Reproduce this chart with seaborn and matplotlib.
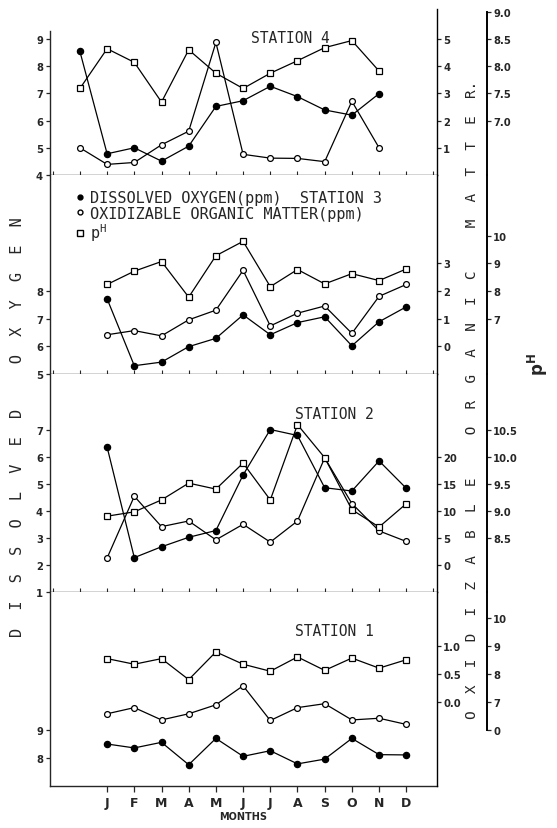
import numpy as np
import pandas as pd
import matplotlib
matplotlib.use('Agg')
import matplotlib.pyplot as plt
import seaborn as sns
from matplotlib.lines import Line2D
from matplotlib.font_manager import FontProperties

sns.set_style('ticks')
plt.rcParams['font.family'] = ['DejaVu Sans']
plt.rcParams['axes.linewidth'] = 1.0

months = ['J', 'F', 'M', 'A', 'M', 'J', 'J', 'A', 'S', 'O', 'N', 'D']

# station 4 (drawn one month to the left in the original figure)
do_st4 = [8.54, 4.78, 5.00, 4.51, 5.06, 6.52, 6.73, 7.26, 6.88, 6.39, 6.20, 6.99]
om_st4 = [1.00, 0.39, 0.46, 1.11, 1.61, 4.87, 0.76, 0.62, 0.61, 0.49, 2.71, 1.00]
ph_st4 = [7.59, 8.32, 8.07, 7.34, 8.30, 7.87, 7.59, 7.87, 8.10, 8.34, 8.47, 7.91]

# station 3
do_st3 = [7.72, 5.30, 5.43, 5.99, 6.29, 7.14, 6.42, 6.86, 7.07, 6.02, 6.89, 7.43]
om_st3 = [0.42, 0.57, 0.38, 0.96, 1.31, 2.75, 0.74, 1.20, 1.46, 0.47, 1.81, 2.24]
ph_st3 = [8.24, 8.72, 9.07, 7.78, 9.28, 9.80, 8.16, 8.78, 8.26, 8.63, 8.38, 8.80]

# station 2
do_st2 = [6.35, 2.27, 2.67, 3.02, 3.27, 5.32, 7.00, 6.78, 4.85, 4.73, 5.84, 4.83]
om_st2 = [1.28, 12.68, 7.07, 8.11, 4.63, 7.50, 4.21, 8.11, 19.76, 11.34, 6.28, 4.33]
ph_st2 = [8.90, 8.98, 9.20, 9.51, 9.40, 9.88, 9.20, 10.59, 9.98, 9.02, 8.70, 9.13]

# station 1
do_st1 = [8.50, 8.36, 8.56, 7.76, 8.70, 8.06, 8.26, 7.79, 7.96, 8.70, 8.12, 8.11]
om_st1 = [-0.21, -0.10, -0.32, -0.21, -0.05, 0.29, -0.33, -0.10, -0.03, -0.32, -0.29, -0.40]
ph_st1 = [8.55, 8.35, 8.55, 7.80, 8.79, 8.35, 8.10, 8.61, 8.13, 8.57, 8.21, 8.51]

W, H = 557, 829
fig = plt.figure(figsize=(W / 100, H / 100), dpi=100)
X0, X1 = 50, 437

mono = 'DejaVu Sans Mono'
tickfont = dict(fontsize=7.2, fontweight='bold')

panels = [
    dict(name='STATION 4', top=10, bot=176, shift=-1, do=do_st4, om=om_st4, ph=ph_st4,
         do_lim=(4, 10.1), do_ticks=[4, 5, 6, 7, 8, 9], do_bounds=(4, 9.3),
         om_lim=(0, 6.1), om_ticks=[1, 2, 3, 4, 5], om_labels=['1', '2', '3', '4', '5'],
         ph_lim=(6.0, 9.05), ph_ticks=[7.0, 7.5, 8.0, 8.5, 9.0],
         ph_labels=['7.0', '7.5', '8.0', '8.5', '9.0'], ph_bounds=(6.0, 9.0),
         label_pos=(0.62, 0.83)),
    dict(name=None, top=176, bot=375, shift=0, do=do_st3, om=om_st3, ph=ph_st3,
         do_lim=(5, 12.2), do_ticks=[5, 6, 7, 8], do_bounds=None,
         om_lim=(-1, 6.2), om_ticks=[0, 1, 2, 3], om_labels=['0', '1', '2', '3'],
         ph_lim=(5, 12.2), ph_ticks=[7, 8, 9, 10], ph_labels=['7', '8', '9', '10'],
         ph_bounds=None, label_pos=None),
    dict(name='STATION 2', top=375, bot=593, shift=0, do=do_st2, om=om_st2, ph=ph_st2,
         do_lim=(1, 9.05), do_ticks=[1, 2, 3, 4, 5, 6, 7], do_bounds=None,
         om_lim=(-5, 35.25), om_ticks=[0, 5, 10, 15, 20],
         om_labels=['0', '5', '10', '15', '20'],
         ph_lim=(7.5, 11.525), ph_ticks=[8.5, 9.0, 9.5, 10.0, 10.5],
         ph_labels=['8.5', '9.0', '9.5', '10.0', '10.5'], ph_bounds=None,
         label_pos=(0.736, 0.817)),
    dict(name='STATION 1', top=593, bot=787, shift=0, do=do_st1, om=om_st1, ph=ph_st1,
         do_lim=(7, 13.93), do_ticks=[8, 9], do_bounds=None,
         om_lim=(-1.5, 1.965), om_ticks=[0.0, 0.5, 1.0], om_labels=['0.0', '0.5', '1.0'],
         ph_lim=(4, 10.93), ph_ticks=[6, 7, 8, 9, 10], ph_labels=['0', '7', '8', '9', '10'],
         ph_bounds=(6, 10.93), label_pos=(0.735, 0.80)),
]

line_kw = dict(color='black', linewidth=0.9, markeredgecolor='black', markeredgewidth=0.9)

axes = []
for i, p in enumerate(panels):
    rect = [X0 / W, 1 - p['bot'] / H, (X1 - X0) / W, (p['bot'] - p['top']) / H]
    ax = fig.add_axes(rect)
    ax_om = ax.twinx()
    ax_ph = ax.twinx()
    x = np.arange(12) + p['shift']

    sns.lineplot(x=x, y=p['do'], ax=ax, marker='o', markersize=4.5,
                 markerfacecolor='black', **line_kw)
    sns.lineplot(x=x, y=p['om'], ax=ax_om, marker='o', markersize=4.2,
                 markerfacecolor='white', **line_kw)
    sns.lineplot(x=x, y=p['ph'], ax=ax_ph, marker='s', markersize=5,
                 markerfacecolor='white', **line_kw)

    ax.set_xlim(-2.1, 12.13)
    ax.set_ylim(*p['do_lim'])
    ax_om.set_ylim(*p['om_lim'])
    ax_ph.set_ylim(*p['ph_lim'])
    for a in (ax, ax_om, ax_ph):
        a.set_xlabel('')
        a.set_ylabel('')

    ax.spines['top'].set_visible(False)
    ax.spines['right'].set_visible(False)
    if p['do_bounds']:
        ax.spines['left'].set_bounds(*p['do_bounds'])
    ax.set_yticks(p['do_ticks'])
    ax.set_yticklabels([str(t) for t in p['do_ticks']], **tickfont)
    ax.tick_params(axis='y', direction='out', length=3, width=0.9, pad=2)

    for a in (ax_om, ax_ph):
        for s in ('left', 'top', 'bottom'):
            a.spines[s].set_visible(False)
        a.spines['right'].set_color('black')
        a.tick_params(axis='y', direction='out', length=3, width=0.9, pad=1.5)
    ax_ph.spines['right'].set_position(('axes', 1.129))
    ax_ph.spines['right'].set_linewidth(1.4)
    if p['ph_bounds']:
        ax_ph.spines['right'].set_bounds(*p['ph_bounds'])
    ax_om.set_yticks(p['om_ticks'])
    ax_om.set_yticklabels(p['om_labels'], **tickfont)
    ax_ph.set_yticks(p['ph_ticks'])
    ax_ph.set_yticklabels(p['ph_labels'], **tickfont)

    if i < 3:
        ax.set_xticks(range(-2, 13))
        ax.tick_params(axis='x', direction='in', length=3, width=0.8, labelbottom=False)
    else:
        ax.set_xticks(range(12))
        ax.set_xticklabels(months, fontsize=9, fontweight='bold')
        ax.tick_params(axis='x', direction='out', length=4, width=0.9, pad=3)
        ax.set_xlabel('MONTHS', fontsize=7, fontweight='bold', labelpad=2)

    if p['name']:
        ax.text(*p['label_pos'], p['name'], transform=ax.transAxes, ha='center',
                va='center', family=mono, fontsize=10.5)
    axes.append(ax)

# legend in the station 3 panel
handles = [
    Line2D([], [], ls='none', marker='o', ms=3.5, mfc='black', mec='black'),
    Line2D([], [], ls='none', marker='o', ms=3.5, mfc='white', mec='black'),
    Line2D([], [], ls='none', marker='s', ms=4, mfc='white', mec='black'),
]
labels = ['DISSOLVED OXYGEN(ppm)  STATION 3',
          'OXIDIZABLE ORGANIC MATTER(ppm)',
          'p$^\\mathregular{H}$']
axes[1].legend(handles, labels, loc='upper left', bbox_to_anchor=(0.065, 0.925),
               frameon=False, prop=FontProperties(family=mono, size=11),
               handlelength=0.6, handletextpad=0.4, labelspacing=0.05,
               borderaxespad=0, borderpad=0)

# axis titles
left_label = '  '.join('DISSOLVED') + '     ' + '  '.join('OXYGEN')
right_label = ('  '.join('OXIDIZABLE') + '     ' + '  '.join('ORGANIC') + '     '
               + '  '.join('MATTER') + '.')
fig.text(18 / W, 1 - 427 / H, left_label, rotation=90, ha='center', va='center',
         family=mono, fontsize=11)
fig.text(472 / W, 1 - 400 / H, right_label, rotation=90, ha='center', va='center',
         family=mono, fontsize=10.4)
fig.text(538 / W, 1 - 365 / H, 'p$^\\mathregular{H}$', rotation=90, ha='center',
         va='center', fontsize=12, fontweight='bold')

fig.savefig('out.png', dpi=100)
